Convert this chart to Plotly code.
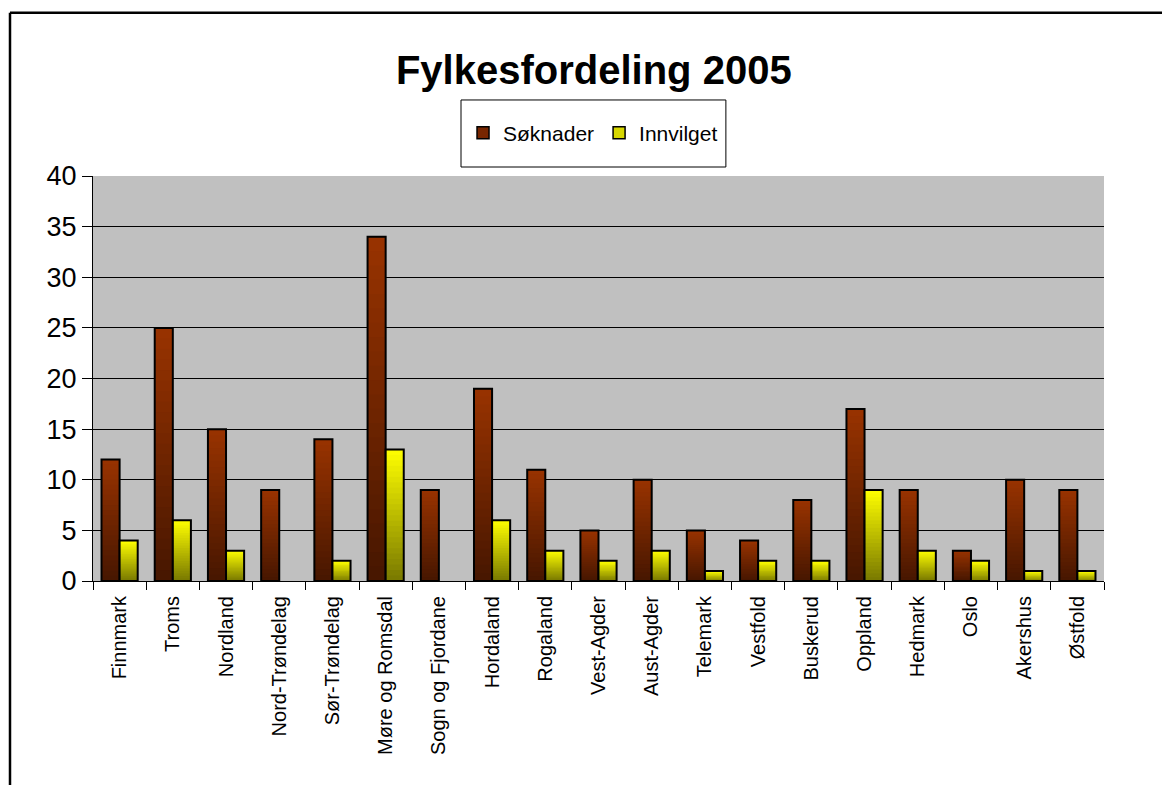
import plotly.graph_objects as go

fylker = ["Finnmark", "Troms", "Nordland", "Nord-Trøndelag", "Sør-Trøndelag",
          "Møre og Romsdal", "Sogn og Fjordane", "Hordaland", "Rogaland",
          "Vest-Agder", "Aust-Agder", "Telemark", "Vestfold", "Buskerud",
          "Oppland", "Hedmark", "Oslo", "Akershus", "Østfold"]
soknader = [12, 25, 15, 9, 14, 34, 9, 19, 11, 5, 10, 5, 4, 8, 17, 9, 3, 10, 9]
innvilget = [4, 6, 3, 0, 2, 13, 0, 6, 3, 2, 3, 1, 2, 2, 9, 3, 2, 1, 1]

FONT = "Liberation Sans, Arial, sans-serif"
N_SEG = 24


def lerp(c1, c2, t):
    return "rgb(%d,%d,%d)" % tuple(round(a + (b - a) * t) for a, b in zip(c1, c2))


fig = go.Figure()

series = [
    ("Søknader", soknader, (153, 51, 0), (70, 22, 0), "rgb(120,38,0)"),
    ("Innvilget", innvilget, (255, 255, 0), (120, 120, 0), "rgb(215,215,0)"),
]

for name, vals, top, bottom, mid in series:
    # gradient segments (bottom dark -> top light), built from the data values;
    # each segment overlaps the next one slightly to avoid seams
    for k in range(N_SEG):
        t = (k + 0.5) / N_SEG
        extra = 0.6 if k < N_SEG - 1 else 0.0
        fig.add_trace(go.Bar(
            x=fylker, y=[v * (1 + extra) / N_SEG for v in vals],
            base=[v * k / N_SEG for v in vals],
            offsetgroup=name, marker=dict(color=lerp(bottom, top, t), line=dict(width=0)),
            showlegend=False, hoverinfo="skip"))
    # outline
    fig.add_trace(go.Bar(
        x=fylker, y=vals, offsetgroup=name, name=name, showlegend=False,
        marker=dict(color="rgba(0,0,0,0)",
                    line=dict(color="black", width=[2 if v > 0 else 0 for v in vals]))))
    # legend entry
    fig.add_trace(go.Bar(
        x=fylker, y=[None] * len(fylker), offsetgroup=name, name=name,
        marker=dict(color=mid, line=dict(color="black", width=1.5))))

fig.update_layout(
    width=1162, height=785,
    margin=dict(l=93, r=58, t=176, b=204),
    paper_bgcolor="white", plot_bgcolor="#c0c0c0",
    barmode="group", bargap=0.32, bargroupgap=0,
    font=dict(family=FONT, color="black"),
    title=dict(text="<b>Fylkesfordeling 2005</b>", x=0.511, xanchor="center",
               y=0.911, yanchor="middle", font=dict(size=40, family=FONT)),
    legend=dict(orientation="h", x=0.366, xanchor="left", y=1.106, yanchor="middle",
                font=dict(size=21, family=FONT), bgcolor="rgba(0,0,0,0)",
                borderwidth=0, itemwidth=30, traceorder="normal"),
    showlegend=True,
    xaxis=dict(type="category", tickson="boundaries", ticks="outside", ticklen=8,
               tickcolor="black", showline=True, linecolor="black", linewidth=1,
               tickangle=-90, tickfont=dict(size=20, family=FONT), showgrid=False,
               ticklabelstandoff=6),
    yaxis=dict(range=[0, 40], dtick=5, ticks="outside", ticklen=10, tickcolor="black",
               showline=True, linecolor="black", linewidth=1, gridcolor="black",
               gridwidth=1, tickfont=dict(size=27, family=FONT), zeroline=False),
    shapes=[
        dict(type="rect", xref="paper", yref="paper", x0=0.364, x1=0.626,
             y0=1.0222, y1=1.1877, line=dict(color="black", width=1), fillcolor="white",
             layer="below"),
        dict(type="line", xref="paper", yref="paper", x0=-0.0821, x1=-0.0821,
             y0=-0.6, y1=1.403, line=dict(color="black", width=2.5)),
        dict(type="line", xref="paper", yref="paper", x0=-0.0821, x1=1.2,
             y0=1.403, y1=1.403, line=dict(color="black", width=2.5)),
    ],
)

fig.write_html(
    "out.html",
    config={"displayModeBar": False},
    post_script="document.body.style.margin='0';document.body.style.overflow='hidden';",
)
